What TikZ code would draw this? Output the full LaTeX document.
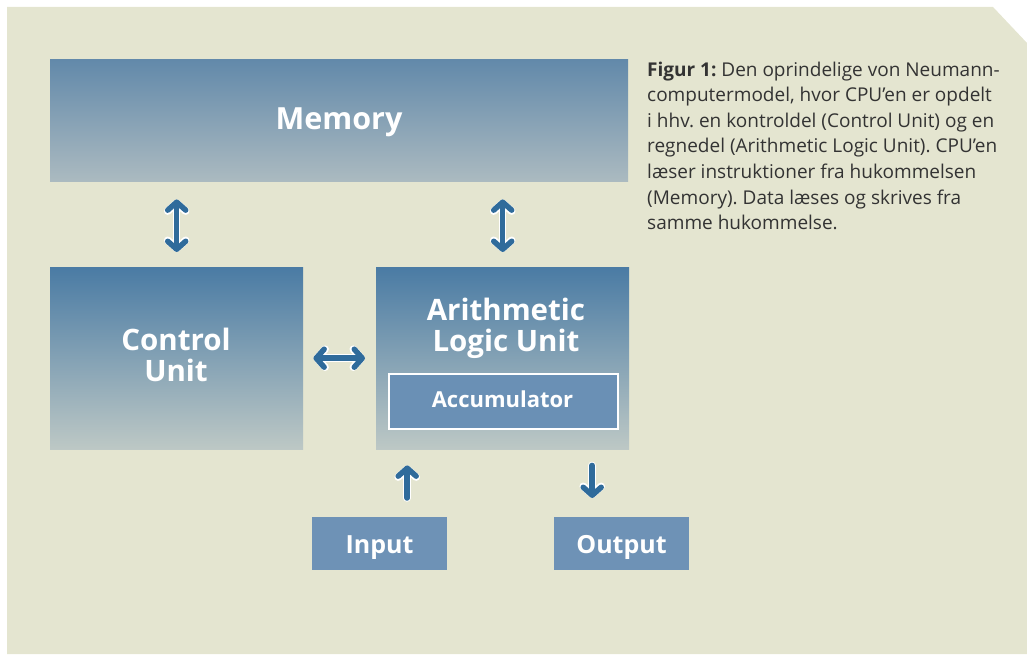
\documentclass[tikz,border=0pt]{standalone}
\usepackage{fontspec}
\setmainfont{Open Sans}
\usetikzlibrary{arrows.meta}
\definecolor{bg}{HTML}{E4E5D0}
\definecolor{topb}{HTML}{4A7BA4}
\definecolor{botb}{HTML}{BDC8C5}
\definecolor{memtop}{HTML}{6289AA}
\definecolor{membot}{HTML}{ABBAC0}
\definecolor{boxfill}{HTML}{6E92B6}
\definecolor{accfill}{HTML}{6A90B5}
\definecolor{arr}{HTML}{2F6B9B}
\definecolor{captxt}{HTML}{333333}
\frenchspacing
\tikzset{
  unitbox/.style={anchor=north west, inner sep=0pt, top color=topb, bottom color=botb, draw=none},
  lbl/.style={text=white, font=\bfseries, align=center, inner sep=0pt},
  iobox/.style={anchor=north west, inner sep=0pt, fill=boxfill, minimum width=135pt, minimum height=53pt},
  arrbase/.style={line cap=round, line join=round},
  arrout/.style={arrbase, white, line width=7.5pt, {Straight Barb[length=8pt,width=18pt,line cap=round,line join=round]}-{Straight Barb[length=8pt,width=18pt,line cap=round,line join=round]}},
  arrin/.style={arrbase, arr, line width=5.5pt, {Straight Barb[length=8pt,width=18pt,line cap=round,line join=round]}-{Straight Barb[length=8pt,width=18pt,line cap=round,line join=round]}},
  arrout1/.style={arrbase, white, line width=7.5pt, -{Straight Barb[length=8pt,width=18pt,line cap=round,line join=round]}},
  arrin1/.style={arrbase, arr, line width=5.5pt, -{Straight Barb[length=8pt,width=18pt,line cap=round,line join=round]}},
}
\begin{document}
\begin{tikzpicture}[x=1pt,y=-1pt]
\useasboundingbox (0,0) rectangle (1027,655);
\fill[bg] (7,7) -- (993,7) -- (1027,43) -- (1027,654) -- (7,654) -- cycle;

% boxes
\node[anchor=north west, inner sep=0pt, top color=memtop, bottom color=membot, minimum width=578pt, minimum height=122pt] (mem) at (50,59) {};
\node[lbl, font=\bfseries\fontsize{30.5}{36}\selectfont, anchor=base] (memtxt) at (339,130) {Memory};

\node[unitbox, minimum width=253pt, minimum height=182pt] (cu) at (50,267) {};
\node[lbl, font=\bfseries\fontsize{29.5}{31}\selectfont, anchor=base] (cutxt) at (176,381) {Control\\Unit};

\node[unitbox, minimum width=253pt, minimum height=182pt] (alu) at (376,267) {};
\node[lbl, font=\bfseries\fontsize{29.5}{31}\selectfont, anchor=base] (alutxt) at (506,351) {Arithmetic\\Logic Unit};

\node[anchor=north west, inner sep=0pt, fill=accfill, draw=white, line width=2pt, minimum width=229pt, minimum height=55pt] (acc) at (388,373) {};
\node[lbl, font=\bfseries\fontsize{22}{26}\selectfont, anchor=base] (acctxt) at (502.5,407) {Accumulator};

\node[iobox] (in) at (312,517) {};
\node[lbl, font=\bfseries\fontsize{25}{30}\selectfont, anchor=base] (intxt) at (379.5,553) {Input};
\node[iobox] (out) at (554,517) {};
\node[lbl, font=\bfseries\fontsize{25}{30}\selectfont, anchor=base] (outtxt) at (621.5,553) {Output};

% arrows
\foreach \s in {arrout,arrin}{
  \draw[\s, shorten <=18pt, shorten >=15pt] (cu.north |- mem.south) -- (cu.north);
  \draw[\s, shorten <=18pt, shorten >=15pt] (alu.north |- mem.south) -- (alu.north);
  \draw[\s, shorten <=10pt, shorten >=11pt] (cu.east) -- (alu.west |- cu.east);
}
\coordinate (inA) at ([xshift=27.5pt]in.north);
\coordinate (outA) at ([xshift=-29.5pt]out.north);
\foreach \s in {arrout1,arrin1}{
  \draw[\s, shorten <=19pt, shorten >=16pt] (inA) -- (inA |- alu.south);
  \draw[\s, shorten <=16pt, shorten >=19pt] (outA |- alu.south) -- (outA);
}

% caption
\node[anchor=base west, inner sep=0pt, align=left, text=captxt, font=\fontsize{19}{25.6}\selectfont] (cap) at (647,229.6)
{\textbf{Figur 1:} Den oprindelige von Neumann-\\
computermodel, hvor CPU’en er opdelt\\
i hhv. en kontroldel (Control Unit) og en\\
regnedel (Arithmetic Logic Unit). CPU’en\\
læser instruktioner fra hukommelsen\\
(Memory). Data læses og skrives fra\\
samme hukommelse.};
\end{tikzpicture}
\end{document}
